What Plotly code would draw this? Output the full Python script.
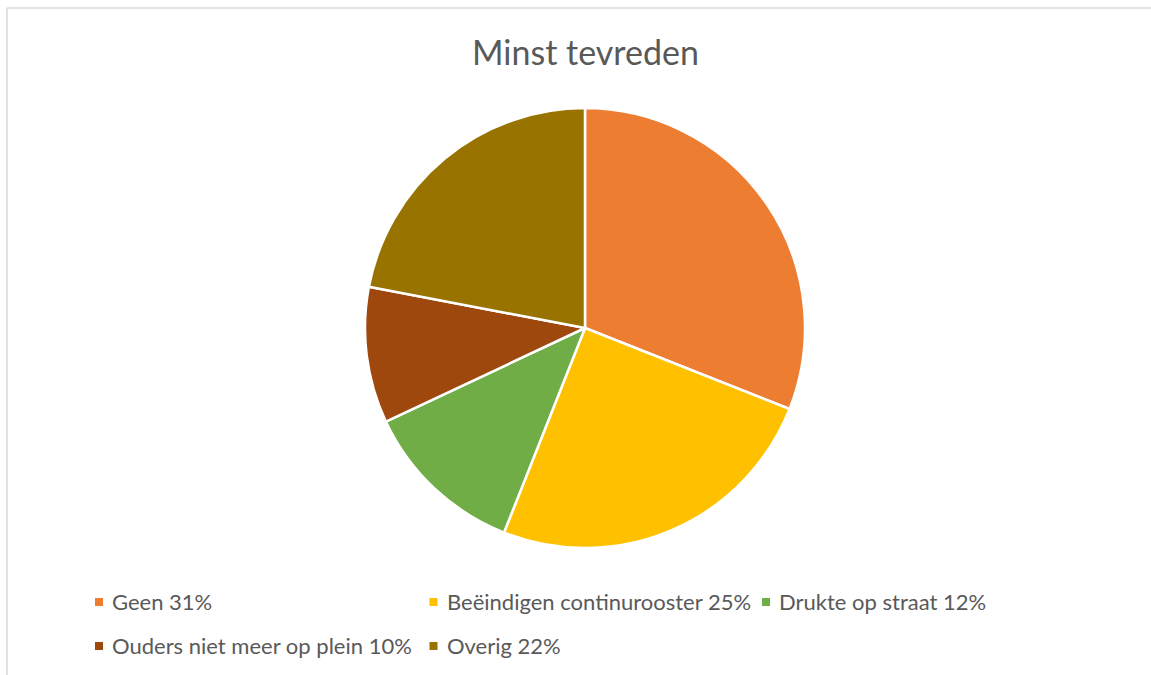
import plotly.graph_objects as go

# Data
categories = ["Geen", "Beëindigen continurooster", "Drukte op straat",
              "Ouders niet meer op plein", "Overig"]
values = [31, 25, 12, 10, 22]
title_text = "Minst tevreden"

colors = ["#ED7D31", "#FFC000", "#70AD47", "#9E480E", "#997300"]
W, H = 1151, 675
FONT = "Lato"
TXT = "#595959"

labels = [f"{c} {v}%" for c, v in zip(categories, values)]

def px(x):
    return x / W

def py(y):
    return 1 - y / H

cx, cy, r = 585, 328, 220

fig = go.Figure(go.Pie(
    labels=labels,
    values=values,
    sort=False,
    direction="clockwise",
    rotation=0,
    textinfo="none",
    hoverinfo="label",
    marker=dict(colors=colors, line=dict(color="white", width=2.5)),
    domain=dict(x=[px(cx - r), px(cx + r)], y=[py(cy + r), py(cy - r)]),
    showlegend=False,
))

# Manual legend (Excel-style grid)
legend_pos = [(99, 602), (433.5, 602), (766, 602), (99, 646), (433.5, 646)]
shapes = []
annotations = []
for (lx, ly), lab, col in zip(legend_pos, labels, colors):
    shapes.append(dict(type="rect", xref="paper", yref="paper",
                       x0=px(lx - 4), x1=px(lx + 4), y0=py(ly + 4), y1=py(ly - 4),
                       fillcolor=col, line=dict(width=0)))
    annotations.append(dict(text=lab, xref="paper", yref="paper",
                            x=px(lx + 11), y=py(ly - 1), xanchor="left", yanchor="middle",
                            showarrow=False, font=dict(family=FONT, size=22, color=TXT)))

# chart border
shapes.append(dict(type="line", xref="paper", yref="paper", x0=px(7), x1=1.0,
                   y0=py(8), y1=py(8), line=dict(color="#D9D9D9", width=1.5)))
shapes.append(dict(type="line", xref="paper", yref="paper", x0=px(7), x1=px(7),
                   y0=py(8), y1=0, line=dict(color="#D9D9D9", width=1.5)))

annotations.append(dict(text=title_text, xref="paper", yref="paper",
                        x=px(585), y=py(51), xanchor="center", yanchor="middle",
                        showarrow=False, font=dict(family=FONT, size=34, color=TXT)))

fig.update_layout(
    width=W, height=H,
    margin=dict(l=0, r=0, t=0, b=0),
    paper_bgcolor="white",
    plot_bgcolor="white",
    shapes=shapes,
    annotations=annotations,
)

fig.write_html("out.html", config={"displayModeBar": False},
               post_script="document.body.style.margin='0';")
